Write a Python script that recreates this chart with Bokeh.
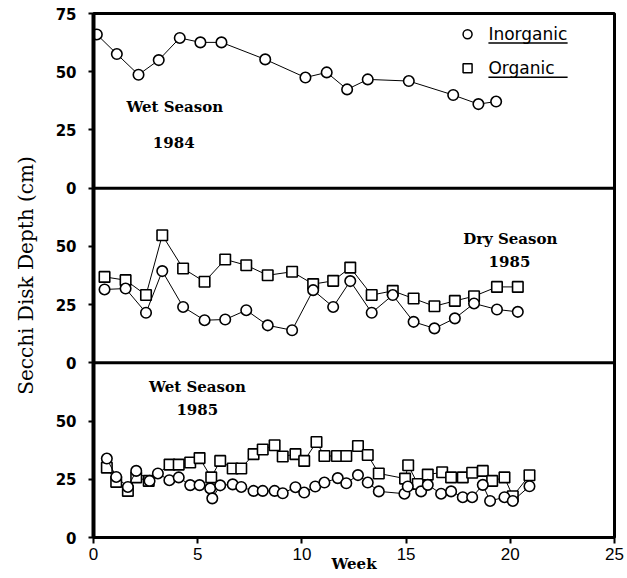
from bokeh.plotting import figure
from bokeh.models import ColumnDataSource, Span, Label, FixedTicker
from bokeh.transform import dodge
from bokeh.embed import file_html
from bokeh.resources import INLINE
from bokeh.core.properties import value

# ---------------- data ----------------
# Wet Season 1984 (inorganic only)
wet84_week = [0.16, 1.12, 2.16, 3.13, 4.14, 5.13, 6.14, 8.24, 10.17, 11.19,
              12.17, 13.16, 15.13, 17.26, 18.47, 19.32]
wet84_inorg = [66.0, 57.6, 48.7, 55.0, 64.5, 62.6, 62.6, 55.3, 47.5, 49.7,
               42.4, 46.7, 46.0, 40.0, 36.1, 37.2]

# Dry Season 1985
dry85_week = [0.53, 1.54, 2.52, 3.30, 4.30, 5.33, 6.32, 7.33, 8.36, 9.53, 10.54,
              11.50, 12.32, 13.35, 14.36, 15.36, 16.36, 17.34, 18.26, 19.36, 20.36]
dry85_inorg = [31.5, 31.9, 21.5, 39.4, 24.0, 18.3, 18.6, 22.6, 16.1, 14.0, 31.2,
               24.0, 35.1, 21.5, 29.1, 17.6, 14.8, 19.1, 25.5, 22.9, 21.9]
dry85_org = [36.9, 35.5, 29.1, 54.8, 40.5, 34.8, 44.4, 41.9, 37.6, 39.1, 33.8,
             35.2, 40.9, 29.1, 30.9, 27.6, 24.3, 26.6, 28.6, 32.6, 32.6]

# Wet Season 1985
wet85_in_week = [0.64, 1.09, 1.65, 2.05, 2.69, 3.09, 3.64, 4.09, 4.64, 5.09, 5.60,
                 5.70, 6.08, 6.68, 7.09, 7.68, 8.12, 8.69, 9.08, 9.69, 10.11, 10.64,
                 11.08, 11.72, 12.13, 12.69, 13.16, 13.69, 14.92, 15.08, 15.72, 16.04,
                 16.68, 17.16, 17.72, 18.17, 18.68, 19.03, 19.72, 20.12, 20.92]
wet85_inorg = [33.9, 26.0, 21.7, 28.6, 24.3, 27.5, 24.6, 25.8, 22.5, 22.5, 21.1,
               16.8, 22.4, 22.8, 21.7, 20.0, 20.0, 20.0, 19.0, 21.6, 19.3, 21.9,
               23.6, 25.5, 23.3, 26.8, 23.6, 19.8, 18.8, 21.9, 19.8, 22.6,
               18.8, 19.8, 17.3, 17.3, 22.6, 15.7, 17.3, 15.7, 22.0]
wet85_org_week = [0.64, 1.09, 1.65, 2.05, 2.65, 3.65, 4.09, 4.64, 5.09, 5.65, 6.08,
                  6.68, 7.09, 7.68, 8.12, 8.69, 9.08, 9.69, 10.11, 10.70, 11.08,
                  11.68, 12.13, 12.69, 13.16, 13.69, 14.95, 15.10, 15.56, 16.04,
                  16.73, 17.16, 17.72, 18.17, 18.68, 19.13, 19.72, 20.12, 20.92]
wet85_org = [30.0, 23.9, 20.0, 25.8, 24.3, 31.3, 31.3, 32.2, 34.1, 25.8, 32.9,
             29.6, 29.6, 35.8, 37.8, 39.6, 34.8, 35.8, 32.9, 41.0, 35.0,
             35.0, 35.0, 39.3, 35.4, 27.5, 25.3, 31.0, 23.0, 27.0,
             28.0, 25.8, 25.8, 27.8, 28.6, 24.3, 25.8, 17.7, 26.7]

x_ticks = [0, 5, 10, 15, 20, 25]
panel_ticks = [0, 25, 50]
panel_span = 75
panel_offsets = {"wet84": 150, "dry85": 75, "wet85": 0}

# ---------------- figure ----------------
p = figure(width=625, height=578, x_range=(0, 25), y_range=(0, 3 * panel_span),
           output_backend="svg", toolbar_location=None,
           min_border_left=93, min_border_right=11, min_border_top=13, min_border_bottom=41)
p.xgrid.visible = False
p.ygrid.visible = False
p.outline_line_color = "black"
p.outline_line_width = 3
p.background_fill_color = "white"
p.border_fill_color = "white"

# panel separators
for off in (panel_offsets["dry85"], panel_offsets["wet84"]):
    p.add_layout(Span(location=off, dimension="width", line_color="black", line_width=3))


def series(weeks, vals, offset, marker):
    src = ColumnDataSource(dict(x=weeks, y=vals))
    p.line(x="x", y=dodge("y", offset), source=src, line_color="black", line_width=1)
    p.scatter(x="x", y=dodge("y", offset), source=src, marker=marker, size=10.5,
              fill_color="white", line_color="black", line_width=1.6)


series(wet84_week, wet84_inorg, panel_offsets["wet84"], "circle")
series(dry85_week, dry85_org, panel_offsets["dry85"], "square")
series(dry85_week, dry85_inorg, panel_offsets["dry85"], "circle")
series(wet85_org_week, wet85_org, panel_offsets["wet85"], "square")
series(wet85_in_week, wet85_inorg, panel_offsets["wet85"], "circle")

# ---------------- axes ----------------
yt = []
overrides = {}
for off in (0, 75, 150):
    for t in panel_ticks:
        yt.append(off + t)
        overrides[off + t] = str(t)
yt.append(3 * panel_span)
overrides[3 * panel_span] = str(panel_span)

p.yaxis.ticker = FixedTicker(ticks=yt)
p.yaxis.major_label_overrides = overrides
p.yaxis.minor_tick_line_color = None
p.yaxis.major_tick_out = 5
p.yaxis.major_tick_in = 0
p.yaxis.major_tick_line_width = 2
p.yaxis.axis_line_width = 4
p.yaxis.major_label_text_font = "DejaVu Sans"
p.yaxis.major_label_text_font_style = "bold"
p.yaxis.major_label_text_font_size = "15px"
p.yaxis.major_label_text_color = "black"
p.yaxis.major_label_standoff = 12
p.yaxis.axis_label = "Secchi Disk Depth (cm)"
p.yaxis.axis_label_text_font = "DejaVu Serif"
p.yaxis.axis_label_text_font_style = "normal"
p.yaxis.axis_label_text_font_size = "20px"
p.yaxis.axis_label_text_color = "black"
p.yaxis.axis_label_standoff = 15

p.xaxis.ticker = FixedTicker(ticks=x_ticks)
p.xaxis.minor_tick_line_color = None
p.xaxis.major_tick_out = 6
p.xaxis.major_tick_in = 0
p.xaxis.major_tick_line_width = 2
p.xaxis.axis_line_width = 3
p.xaxis.major_label_text_font = "Liberation Sans"
p.xaxis.major_label_text_font_size = "17px"
p.xaxis.major_label_text_color = "black"
p.xaxis.major_label_standoff = 4
p.xaxis.axis_label = "Week"
p.xaxis.axis_label_text_font = "DejaVu Serif"
p.xaxis.axis_label_text_font_style = "bold"
p.xaxis.axis_label_text_font_size = "15px"
p.xaxis.axis_label_text_color = "black"
p.xaxis.axis_label_standoff = -8

# ---------------- annotations ----------------
ann_font = dict(text_font="DejaVu Serif", text_font_style="bold",
                text_font_size="15px", text_color="black",
                text_align="center", text_baseline="middle")
annotations = [
    ("Wet Season", 3.9, 184.8),
    ("1984", 3.85, 169.8),
    ("Dry Season", 20.0, 128.2),
    ("1985", 19.96, 118.4),
    ("Wet Season", 4.99, 64.8),
    ("1985", 4.98, 54.8),
]
for txt, ax, ay in annotations:
    p.add_layout(Label(x=ax, y=ay, text=txt, **ann_font))

# ---------------- legend (drawn) ----------------
leg_marker_x = 17.95
leg_text_x = 18.95
leg_line_x1 = 22.75
leg_rows = [("circle", "Inorganic", 216.1, 212.3), ("square", "Organic", 201.5, 197.6)]
for mk, lab, ly, uy in leg_rows:
    p.scatter(x=[leg_marker_x], y=[ly], marker=mk, size=9, fill_color="white",
              line_color="black", line_width=1.5)
    p.text(x=[leg_text_x], y=[ly + 0.3], text=[lab], text_font=value("DejaVu Sans"),
           text_font_size="17px", text_color="black", text_baseline="middle",
           text_align="left")
    p.segment(x0=[leg_text_x], y0=[uy], x1=[leg_line_x1], y1=[uy],
              line_color="black", line_width=1.5)

open("out.html", "w").write(file_html(p, INLINE))
